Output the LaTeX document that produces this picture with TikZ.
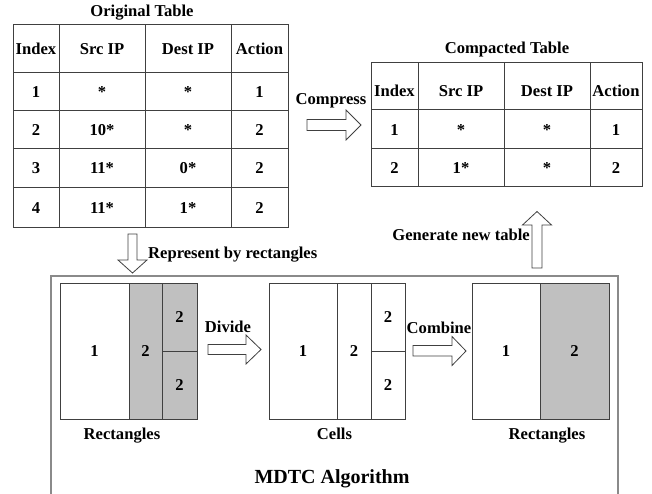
\documentclass[tikz,border=0pt]{standalone}
\usepackage{fontspec}
\setmainfont{Liberation Serif}
\definecolor{tabline}{HTML}{404040}
\definecolor{boxline}{HTML}{8A8A8A}
\definecolor{shade}{HTML}{C0C0C0}
\begin{document}
\begin{tikzpicture}[x=1pt,y=-1pt,
  lbl/.style={font=\fontsize{16.6}{18}\selectfont\bfseries, inner sep=0pt, text height=11pt, text depth=0pt},
  big/.style={font=\fontsize{20}{22}\selectfont\bfseries, inner sep=0pt, text height=13.2pt, text depth=0pt},
  tab/.style={draw=tabline, line width=1pt},
  blk/.style={draw=tabline, fill=white, line width=0.8pt, line join=miter},
  rectw/.style={draw=tabline, line width=1pt, fill=white},
  rectg/.style={draw=tabline, line width=1pt, fill=shade}]
\useasboundingbox (0,0) rectangle (652,494);

% ---------- Original table ----------
\node[lbl] (otitle) at (142,11) {Original Table};
\draw[tab] (13,25) rectangle (288,227);
\foreach \x in {59,145,231} \draw[tab] (\x,25) -- (\x,227);
\foreach \y in {73,111,149,188} \draw[tab] (13,\y) -- (288,\y);
\foreach \t [count=\i] in {Index,Src IP,Dest IP,Action} {
  \pgfmathsetmacro{\cx}{{36,102,188,259.5}[\i-1]}
  \node[lbl] (oh\i) at (\cx,49) {\t};
}
\foreach \a/\b/\c/\d/\y [count=\r] in {1/*/*/1/92, 2/10*/*/2/130, 3/11*/0*/2/168.5, 4/11*/1*/2/207.5} {
  \node[lbl] (o\r a) at (36,\y) {\a};
  \node[lbl] (o\r b) at (102,\y) {\b};
  \node[lbl] (o\r c) at (188,\y) {\c};
  \node[lbl] (o\r d) at (259.5,\y) {\d};
}

% ---------- Compacted table ----------
\node[lbl] (ctitle) at (507,48.5) {Compacted Table};
\draw[tab] (371,63) rectangle (642,187);
\foreach \x in {418,504,590} \draw[tab] (\x,63) -- (\x,187);
\foreach \y in {110,149} \draw[tab] (371,\y) -- (642,\y);
\foreach \t [count=\i] in {Index,Src IP,Dest IP,Action} {
  \pgfmathsetmacro{\cx}{{394.5,461,547,616}[\i-1]}
  \node[lbl] (ch\i) at (\cx,91) {\t};
}
\foreach \a/\b/\c/\d/\y [count=\r] in {1/*/*/1/130, 2/1*/*/2/168} {
  \node[lbl] (c\r a) at (394.5,\y) {\a};
  \node[lbl] (c\r b) at (461,\y) {\b};
  \node[lbl] (c\r c) at (547,\y) {\c};
  \node[lbl] (c\r d) at (616,\y) {\d};
}

% ---------- Compress arrow ----------
\node[lbl] (compress) at (331,99) {Compress};
\draw[blk] (307,119.5) -- (346,119.5) -- (346,110) -- (361,125) -- (346,140) -- (346,130.5) -- (307,130.5) -- cycle;

% ---------- Represent arrow ----------
\draw[blk] (128,234) -- (137,234) -- (137,260) -- (147,260) -- (132.5,273) -- (118,260) -- (128,260) -- cycle;
\node[lbl, anchor=west] (represent) at (148,252.5) {Represent by rectangles};

% ---------- Generate arrow ----------
\draw[blk] (532,268) -- (542,268) -- (542,225) -- (551.5,225) -- (537,211.5) -- (522.5,225) -- (532,225) -- cycle;
\node[lbl, anchor=east] (generate) at (530,234.5) {Generate new table};

% ---------- MDTC box ----------
\draw[draw=boxline, line width=1.6pt] (51,496) -- (51,276) -- (618,276) -- (618,496);
\node[big] (mdtc) at (332,476.5) {MDTC Algorithm};

% ---------- Group 1: rectangles ----------
\draw[rectw] (60,283) rectangle (129,419);
\draw[rectg] (129,283) rectangle (162,419);
\draw[rectg] (162,283) rectangle (197,351);
\draw[rectg] (162,351) rectangle (197,419);
\node[lbl] (g1a) at (94.5,351) {1};
\node[lbl] (g1b) at (145.5,351) {2};
\node[lbl] (g1c) at (179.5,317) {2};
\node[lbl] (g1d) at (179.5,385) {2};
\node[lbl] (rect1) at (122,434) {Rectangles};

% ---------- Divide arrow ----------
\node[lbl] (divide) at (228,326.5) {Divide};
\draw[blk] (208,344.5) -- (246,344.5) -- (246,335) -- (261,349.5) -- (246,364) -- (246,354.5) -- (208,354.5) -- cycle;

% ---------- Group 2: cells ----------
\draw[rectw] (269,283) rectangle (337,419);
\draw[rectw] (337,283) rectangle (371,419);
\draw[rectw] (371,283) rectangle (405,351);
\draw[rectw] (371,351) rectangle (405,419);
\node[lbl] (g2a) at (303,351) {1};
\node[lbl] (g2b) at (354,351) {2};
\node[lbl] (g2c) at (388,317) {2};
\node[lbl] (g2d) at (388,385) {2};
\node[lbl] (cells) at (334.5,434) {Cells};

% ---------- Combine arrow ----------
\node[lbl] (combine) at (439,328) {Combine};
\draw[blk] (413,345.5) -- (452,345.5) -- (452,336.5) -- (466,351) -- (452,365.5) -- (452,356) -- (413,356) -- cycle;

% ---------- Group 3: rectangles ----------
\draw[rectw] (472,283) rectangle (540,419);
\draw[rectg] (540,283) rectangle (609,419);
\node[lbl] (g3a) at (506,351) {1};
\node[lbl] (g3b) at (574.5,351) {2};
\node[lbl] (rect3) at (547,434) {Rectangles};
\end{tikzpicture}
\end{document}
